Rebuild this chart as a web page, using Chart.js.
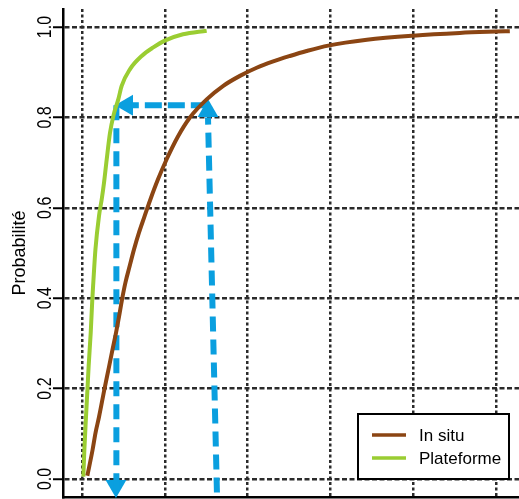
<!DOCTYPE html>
<html>
<head>
<meta charset="utf-8">
<script src="https://cdn.jsdelivr.net/npm/chart.js@4.4.1/dist/chart.umd.min.js"></script>
<style>
  html, body { margin: 0; padding: 0; background: #fff; overflow: hidden; }
  #wrap { width: 519px; height: 499px; position: relative; }
</style>
</head>
<body>
<div id="wrap"><canvas id="cdf-chart"></canvas></div>
<script>
// curves (x in grid units, y = probability)
const insituX = [0.064, 0.127, 0.163, 0.205, 0.272, 0.326, 0.368, 0.411, 0.447, 0.483, 0.525, 0.574, 0.628, 0.688, 0.755,
    0.827, 0.918, 1.021, 1.159, 1.304, 1.506, 1.707, 1.908, 2.110, 2.310, 2.512, 2.714, 2.975, 3.442, 3.998, 4.565, 5.0, 5.169];
const insituY = [0.007, 0.064, 0.102, 0.137, 0.200, 0.248, 0.286, 0.324, 0.359, 0.397, 0.435, 0.470, 0.508, 0.545, 0.581,
    0.619, 0.663, 0.707, 0.758, 0.800, 0.840, 0.870, 0.892, 0.910, 0.924, 0.936, 0.947, 0.959, 0.972, 0.981, 0.987, 0.99, 0.991];

const platX = [0.016, 0.028, 0.048, 0.066, 0.08, 0.105, 0.124, 0.136, 0.162, 0.205, 0.238, 0.266, 0.298, 0.338, 0.378,
    0.438, 0.479, 0.58, 0.721, 0.861, 1.0, 1.22, 1.506];
const platY = [0.005, 0.064, 0.138, 0.2, 0.25, 0.324, 0.397, 0.434, 0.508, 0.582, 0.619, 0.656, 0.707, 0.766, 0.803,
    0.840, 0.87, 0.907, 0.936, 0.955, 0.97, 0.984, 0.992];

const seriesLabels = ['In situ', 'Plateforme'];

// axis ticks
const yTicks = [0, 0.2, 0.4, 0.6, 0.8, 1.0];
const yTickLabels = ['0.0', '0.2', '0.4', '0.6', '0.8', '1.0'];
const xTicks = [0, 1, 2, 3, 4, 5];
const yTitle = 'Probabilité';

// blue dashed arrows
const arrowUpX = [1.63, 1.522];
const arrowUpY = [-0.03, 0.80];
const arrowLeftX = [1.52, 0.60];
const arrowLeftY = [0.827, 0.827];
const arrowDownX = [0.415, 0.415];
const arrowDownY = [0.827, -0.02];
const headX = [1.522, 0.543, 0.41];
const headY = [0.814, 0.827, -0.0155];
const headRot = [0, -90, 180];

const brown = '#8B4513';
const green = '#9ACD32';
const blue = '#0A9FDF';

const pts = (xs, ys) => xs.map((x, i) => ({x: x, y: ys[i]}));

// draws rotated y labels, y title and the boxed legend
const extras = {
    id: 'extras',
    afterDraw(chart) {
        const c = chart.ctx;
        const ys = chart.scales.y;
        const area = chart.chartArea;
        c.save();
        c.fillStyle = '#000';
        c.textAlign = 'center';
        c.textBaseline = 'middle';
        // tick labels, rotated and a bit stretched like the original
        c.font = '16px "Liberation Sans", Arial, sans-serif';
        yTicks.forEach((v, i) => {
            c.save();
            c.translate(45, ys.getPixelForValue(v));
            c.rotate(-Math.PI / 2);
            c.scale(1, 1.3);
            c.fillText(yTickLabels[i], 0, 0);
            c.restore();
        });
        // title
        c.save();
        c.font = '18px "Liberation Sans", Arial, sans-serif';
        c.translate(20, 253);
        c.rotate(-Math.PI / 2);
        c.fillText(yTitle, 0, 0);
        c.restore();

        // legend box
        const bx = area.right - 161, by = area.bottom - 83, bw = 151, bh = 65;
        c.fillStyle = '#fff';
        c.fillRect(bx, by, bw, bh);
        c.strokeStyle = '#000';
        c.lineWidth = 2;
        c.strokeRect(bx, by, bw, bh);
        c.font = '17px "Liberation Sans", Arial, sans-serif';
        c.textAlign = 'left';
        chart.data.datasets.slice(0, 2).forEach((ds, i) => {
            const ly = by + 21 + i * 23;
            c.strokeStyle = ds.borderColor;
            c.lineWidth = 3.5;
            c.beginPath();
            c.moveTo(bx + 14, ly);
            c.lineTo(bx + 48, ly);
            c.stroke();
            c.fillStyle = '#000';
            c.fillText(ds.label, bx + 61, ly + 1);
        });
        c.restore();
    }
};

const dashLine = (xs, ys, dash) => ({
    label: '',
    data: pts(xs, ys),
    showLine: true,
    borderColor: blue,
    borderWidth: 6,
    borderDash: dash,
    pointRadius: 0,
    clip: false
});

const chart = new Chart(document.getElementById('cdf-chart'), {
    type: 'scatter',
    data: {
        datasets: [{
            label: seriesLabels[0],
            data: pts(insituX, insituY),
            showLine: true,
            borderColor: brown,
            borderWidth: 4,
            pointRadius: 0,
            cubicInterpolationMode: 'monotone'
        }, {
            label: seriesLabels[1],
            data: pts(platX, platY),
            showLine: true,
            borderColor: green,
            borderWidth: 4,
            pointRadius: 0,
            cubicInterpolationMode: 'monotone'
        },
        dashLine(arrowUpX, arrowUpY, [15, 8]),
        dashLine(arrowLeftX, arrowLeftY, [17, 6]),
        dashLine(arrowDownX, arrowDownY, [15, 8]),
        {
            label: '',
            data: pts(headX, headY),
            showLine: false,
            pointStyle: 'triangle',
            pointRadius: 12,
            pointRotation: headRot,
            backgroundColor: blue,
            borderColor: blue,
            borderWidth: 0,
            clip: false
        }]
    },
    options: {
        responsive: true,
        maintainAspectRatio: false,
        animation: false,
        events: [],
        layout: { autoPadding: false, padding: { top: 9, right: 0, left: 0, bottom: 0 } },
        plugins: {
            legend: { display: false },
            tooltip: { enabled: false }
        },
        scales: {
            x: {
                type: 'linear',
                min: -0.23,
                max: 5.28,
                afterBuildTicks: s => { s.ticks = xTicks.map(v => ({value: v})); },
                afterFit: s => { s.height = 2; },
                ticks: { display: false },
                grid: { color: '#2b2b2b', lineWidth: 2.5, drawTicks: false, borderDash: [3, 2.5] },
                border: { display: true, color: '#000', width: 2.5, dash: [3, 2.5] }
            },
            y: {
                type: 'linear',
                min: -0.04,
                max: 1.04,
                afterBuildTicks: s => { s.ticks = yTicks.map(v => ({value: v})); },
                afterFit: s => { s.width = 63; },
                ticks: { display: false },
                grid: {
                    color: '#2b2b2b', lineWidth: 2.5, borderDash: [5, 2.5],
                    drawTicks: true, tickLength: 10, tickColor: '#000', tickWidth: 2, tickBorderDash: []
                },
                border: { display: true, color: '#000', width: 2.5, dash: [5, 2.5] }
            }
        }
    },
    plugins: [extras]
});
</script>
</body>
</html>
